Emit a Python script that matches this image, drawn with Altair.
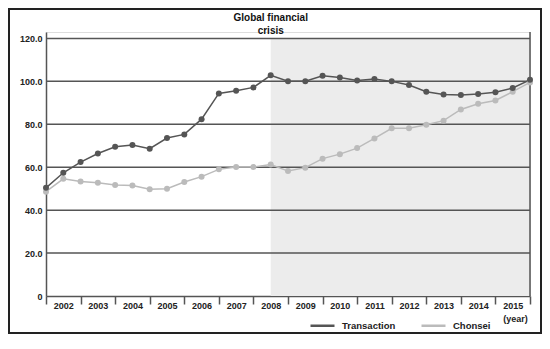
import altair as alt
import pandas as pd

# Half-year observation points (2002 H1 ... 2016 start)
periods = [2002.0, 2002.5, 2003.0, 2003.5, 2004.0, 2004.5, 2005.0, 2005.5,
           2006.0, 2006.5, 2007.0, 2007.5, 2008.0, 2008.5, 2009.0, 2009.5,
           2010.0, 2010.5, 2011.0, 2011.5, 2012.0, 2012.5, 2013.0, 2013.5,
           2014.0, 2014.5, 2015.0, 2015.5, 2016.0]
transaction = [50.4, 57.4, 62.4, 66.4, 69.5, 70.3, 68.6, 73.6, 75.3, 82.4,
               94.4, 95.6, 97.2, 102.8, 100.1, 100.1, 102.6, 101.8, 100.4,
               101.1, 100.0, 98.3, 95.2, 93.9, 93.6, 94.1, 94.9, 96.9, 100.7]
chonsei = [48.6, 54.6, 53.4, 52.8, 51.7, 51.5, 49.7, 50.0, 53.1, 55.6,
           59.0, 60.1, 60.1, 61.3, 58.2, 59.8, 64.0, 66.1, 68.9, 73.4,
           78.1, 78.2, 79.8, 81.7, 86.9, 89.6, 91.1, 95.2, 99.5]
series_names = ["Transaction", "Chonsei"]
series_colors = ["#555555", "#bbbbbb"]
year_ticks = [2002, 2003, 2004, 2005, 2006, 2007, 2008, 2009, 2010, 2011,
              2012, 2013, 2014, 2015, 2016]
y_ticks = [0, 20, 40, 60, 80, 100, 120]
grid_values = [20, 40, 60, 80, 100, 120]
crisis_start = 2008.5
crisis_end = 2016
crisis_label = "Global financial\ncrisis"

FONT = "Liberation Sans"

df = pd.DataFrame({
    "t": periods * 2,
    "v": chonsei + transaction,
    "series": ["Chonsei"] * len(periods) + ["Transaction"] * len(periods),
})

xscale = alt.Scale(domain=[2002, 2016], nice=False, zero=False)
yscale = alt.Scale(domain=[0, 123], nice=False)

xaxis = alt.Axis(
    values=year_ticks, format="d",
    labelExpr="datum.value == 2016 ? '' : datum.label",
    labelOffset=17.3, labelFlush=False, labelOverlap=False, labelBound=False,
    tickSize=8, tickColor="#555555", tickWidth=1.5,
    domainColor="#555555", domainWidth=1.5, grid=False,
    labelFont=FONT, labelFontSize=9, labelFontWeight="bold", labelColor="#222222",
    labelPadding=-3,
    title="(year)", titleFont=FONT, titleFontSize=9, titleFontWeight="bold",
    titleColor="#222222", titleX=469, titleY=22, titleAlign="center",
    titleBaseline="middle",
)
yaxis = alt.Axis(
    values=y_ticks,
    labelExpr="datum.value == 0 ? '0' : format(datum.value, '.1f')",
    ticks=False, grid=False, domainColor="#555555", domainWidth=1.5,
    labelFont=FONT, labelFontSize=9, labelFontWeight="bold", labelColor="#222222",
    labelPadding=4, title=None,
)

x_enc = alt.X("t:Q", scale=xscale, axis=xaxis)
y_enc = alt.Y("v:Q", scale=yscale, axis=yaxis)

shade = alt.Chart(pd.DataFrame({"t": [crisis_start], "t2": [crisis_end],
                                "v": [0], "v2": [120]})).mark_rect(
    color="#ececec").encode(x=x_enc, x2="t2:Q", y=y_enc, y2="v2:Q")

grid = alt.Chart(pd.DataFrame({"v": grid_values})).mark_rule(
    color="#555555", strokeWidth=1.5).encode(y=y_enc)

right_edge = alt.Chart(pd.DataFrame({"t": [crisis_end]})).mark_rule(
    color="#555555", strokeWidth=1.5).encode(x=x_enc)

lines = alt.Chart(df).mark_line(
    strokeWidth=1.5,
    point=alt.OverlayMarkDef(filled=True, size=36, opacity=1),
).encode(
    x=x_enc, y=y_enc,
    color=alt.Color("series:N",
                    scale=alt.Scale(domain=series_names, range=series_colors),
                    legend=alt.Legend(
                        title=None, orient="none", legendX=263, legendY=280,
                        direction="horizontal", symbolType="stroke",
                        symbolSize=576, symbolStrokeWidth=2.5,
                        labelFont=FONT, labelFontSize=9.5,
                        labelFontWeight="bold", labelColor="#222222",
                        labelOffset=6, columnPadding=20)),
    order=alt.Order("series:N"),
)

crisis_text = alt.Chart(pd.DataFrame({"t": [crisis_start],
                                      "label": [crisis_label]})).mark_text(
    font=FONT, fontSize=10, fontWeight="bold", color="#111111",
    lineBreak="\n", lineHeight=12.5, align="center", baseline="middle",
).encode(x=x_enc, y=alt.value(-14), text="label:N")

frame = alt.Chart(pd.DataFrame({"k": [0]})).mark_rect(
    fillOpacity=0, stroke="#222222", strokeWidth=2).encode(
    x=alt.value(-37), x2=alt.value(495), y=alt.value(-23), y2=alt.value(301))

chart = alt.layer(shade, grid, right_edge, lines, crisis_text, frame).properties(
    width=484, height=264,
    padding={"left": 38, "top": 24, "right": 12, "bottom": 38},
    autosize=alt.AutoSizeParams(type="none"),
).configure_view(stroke=None).configure(background="white")

chart.save("out.html", embed_options={"renderer": "svg", "actions": False})
